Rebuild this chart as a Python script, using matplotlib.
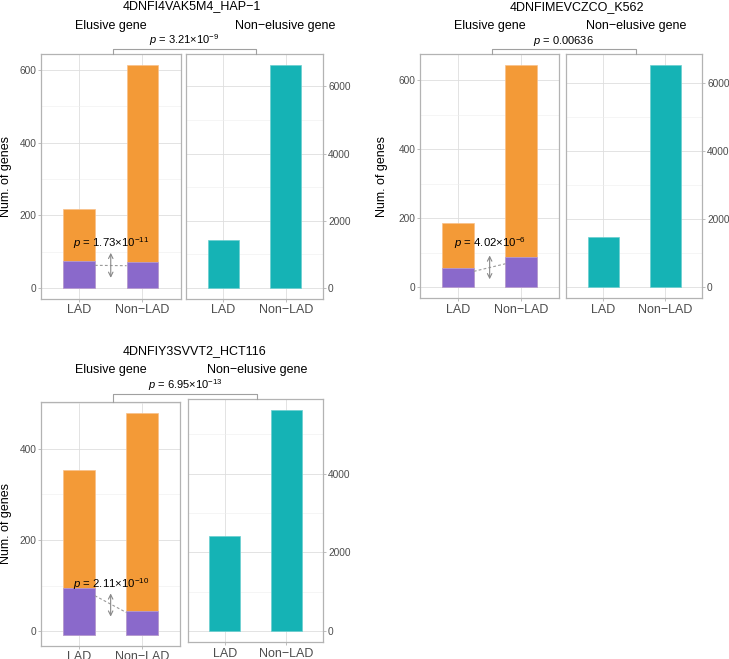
import matplotlib
matplotlib.use("Agg")
import matplotlib.pyplot as plt
from matplotlib.ticker import MultipleLocator

plt.rcParams["font.family"] = ["Liberation Sans", "DejaVu Sans"]
plt.rcParams["mathtext.fontset"] = "custom"
plt.rcParams["mathtext.rm"] = "Liberation Sans"
plt.rcParams["mathtext.it"] = "Liberation Sans:italic"

# ---- data ----
samples = ["4DNFI4VAK5M4_HAP\u22121", "4DNFIMEVCZCO_K562", "4DNFIY3SVVT2_HCT116"]
categories = ["LAD", "Non\u2212LAD"]
elusive_total = [[218, 613], [187, 643], [354, 479]]
elusive_sub = [[74, 72.5], [57, 89], [94, 44]]
elusive_base = [0, 0, -8]
non_elusive = [[1420, 6636], [1478, 6509], [2417, 5616]]
p_outer = [r"$p$ = 3.21×10$^{-9}$", r"$p$ = 0.00636", r"$p$ = 6.95×10$^{-13}$"]
p_inner = [r"$p$ = 1.73×10$^{-11}$", r"$p$ = 4.02×10$^{-6}$", r"$p$ = 2.11×10$^{-10}$"]
# dashed connector ends and arrow span (data units of the elusive panel)
link_y = [[62, 61], [46, 68], [78, 41]]
arrow_y = [[104, 20], [100, 15], [89, 26]]
ptext_y = [124, 129, 104]

ORANGE = "#F39A37"
PURPLE = "#8A69CB"
TEAL = "#15B3B5"
BORDER = "#B3B3B3"
TICKTXT = "#4D4D4D"

W, H = 729, 659

# pixel layout of each chart (panel boxes as x0, y0, x1, y1 from top-left)
layout = [
    dict(left=(41, 54, 180.5, 299), right=(185.7, 54, 323.3, 299), title_x=191.7, ne_x=285.5, ylab_x=12),
    dict(left=(420, 54.3, 559.3, 298.3), right=(566, 54.3, 702.3, 298.3), title_x=577, ne_x=636, ylab_x=388),
    dict(left=(41, 401.7, 180.3, 646), right=(187.7, 399, 323.3, 642.3), title_x=194.3, ne_x=257, ylab_x=12),
]


def px_axes(fig, box):
    x0, y0, x1, y1 = box
    return fig.add_axes([x0 / W, 1 - y1 / H, (x1 - x0) / W, (y1 - y0) / H])


def style_panel(ax, major, side):
    ax.set_xlim(0.4, 2.6)
    ax.set_xticks([1, 2])
    ax.set_xticklabels(categories)
    ax.yaxis.set_major_locator(MultipleLocator(major))
    ax.yaxis.set_minor_locator(MultipleLocator(major / 2))
    ax.set_axisbelow(True)
    ax.grid(True, which="major", color="#DEDEDE", lw=0.6)
    ax.grid(True, which="minor", axis="y", color="#EEEEEE", lw=0.4)
    for s in ax.spines.values():
        s.set_color(BORDER)
        s.set_linewidth(0.9)
    ax.tick_params(which="major", length=2.4, width=0.6, color=BORDER, labelsize=7.3,
                   labelcolor=TICKTXT, pad=1)
    ax.tick_params(axis="x", labelsize=9, pad=1.5)
    ax.tick_params(which="minor", length=0)
    if side == "right":
        ax.yaxis.tick_right()


def ylim_expand(lo, hi):
    pad = 0.05 * (hi - lo)
    return lo - pad, hi + pad


fig = plt.figure(figsize=(W / 100, H / 100), dpi=100)
over = fig.add_axes([0, 0, 1, 1], zorder=10)
over.set_xlim(0, W)
over.set_ylim(H, 0)
over.axis("off")
over.patch.set_alpha(0)

x = [1, 2]
for i, lay in enumerate(layout):
    # elusive panel
    axl = px_axes(fig, lay["left"])
    base = elusive_base[i]
    axl.bar(x, [t - base for t in elusive_total[i]], bottom=base, width=0.5,
            color=ORANGE, edgecolor="#F8C08A", linewidth=0.5)
    axl.bar(x, [s - base for s in elusive_sub[i]], bottom=base, width=0.5,
            color=PURPLE, edgecolor="#B3A0E0", linewidth=0.5)
    axl.set_ylim(*ylim_expand(min(base, 0), max(elusive_total[i])))
    style_panel(axl, 200, "left")
    axl.set_ylabel("Num. of genes", fontsize=9)
    axl.yaxis.set_label_coords((lay["ylab_x"] - lay["left"][0]) / (lay["left"][2] - lay["left"][0]), 0.5)

    axl.plot([1.25, 1.75], link_y[i], ls=(0, (2.5, 2)), color="#999999", lw=0.8)
    axl.annotate("", xy=(1.5, arrow_y[i][1]), xytext=(1.5, arrow_y[i][0]),
                 arrowprops=dict(arrowstyle="<->", color="#888888", lw=0.8,
                                 mutation_scale=8))
    axl.text(1.5, ptext_y[i], p_inner[i], ha="center", va="center", fontsize=8.2)

    # non-elusive panel
    axr = px_axes(fig, lay["right"])
    axr.bar(x, non_elusive[i], width=0.5, color=TEAL, edgecolor="#6ACFD0", linewidth=0.5)
    axr.set_ylim(*ylim_expand(0, max(non_elusive[i])))
    style_panel(axr, 2000, "right")

    # titles and bracket in pixel space
    lx0, ly0, lx1, _ = lay["left"]
    rx0, ry0, rx1, _ = lay["right"]
    top = min(ly0, ry0)
    over.text(lay["title_x"], top - 47.5, samples[i], ha="center", va="center", fontsize=9)
    over.text((lx0 + lx1) / 2, top - 28.5, "Elusive gene", ha="center", va="center", fontsize=9)
    over.text(lay["ne_x"], top - 28.5, "Non\u2212elusive gene", ha="center", va="center", fontsize=9)
    bx0 = (lx0 + lx1) / 2 + 2
    bx1 = (rx0 + rx1) / 2 + 2
    by = top - 5
    over.plot([bx0, bx0, bx1, bx1], [ly0, by, by, ry0], color="#A0A0A0", lw=0.8)
    over.text((bx0 + bx1) / 2, top - 13.5, p_outer[i], ha="center", va="center", fontsize=8)

fig.savefig("out.png", dpi=100)
